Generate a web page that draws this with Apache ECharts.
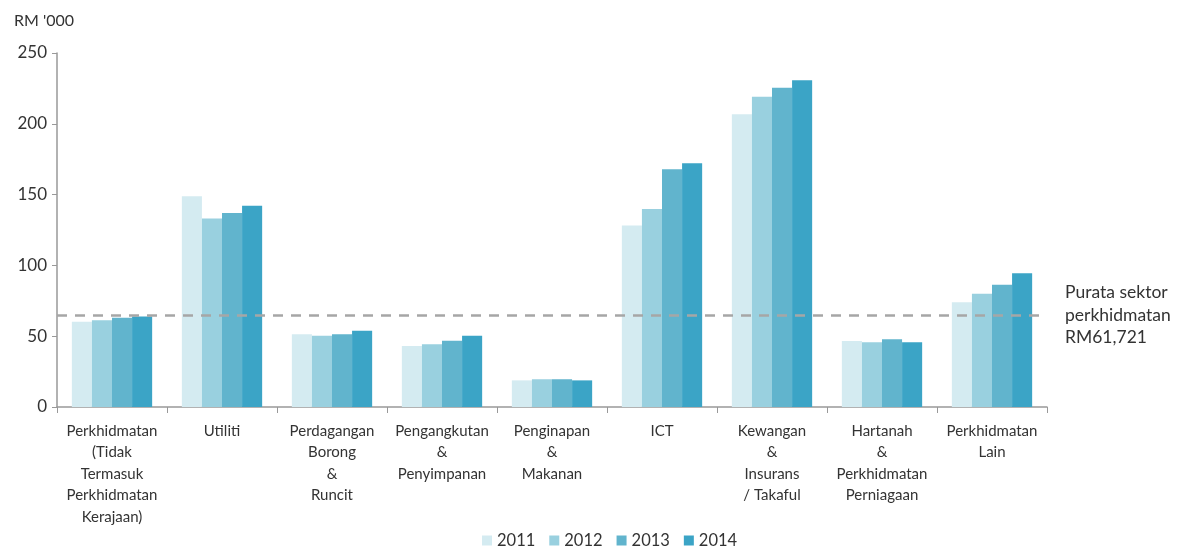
<!DOCTYPE html>
<html>
<head>
<meta charset="utf-8">
<script src="https://cdn.jsdelivr.net/npm/echarts@6/dist/echarts.min.js"></script>
<style>
  html, body { margin: 0; padding: 0; background: #fff; }
  #main { width: 1183px; height: 549px; }
</style>
</head>
<body>
<div id="main"></div>
<script>
// categories (sectors)
var sectors = [
  'Perkhidmatan\n(Tidak\nTermasuk\nPerkhidmatan\nKerajaan)',
  'Utiliti',
  'Perdagangan\nBorong\n&\nRuncit',
  'Pengangkutan\n&\nPenyimpanan',
  'Penginapan\n&\nMakanan',
  'ICT',
  'Kewangan\n&\nInsurans\n/ Takaful',
  'Hartanah\n&\nPerkhidmatan\nPerniagaan',
  'Perkhidmatan\nLain'
];

var years = ['2011', '2012', '2013', '2014'];

// RM '000
var v2011 = [60.2, 148.8, 51.3, 43.1, 18.8, 128.1, 206.7, 46.6, 73.9];
var v2012 = [61.2, 133.2, 50.4, 44.3, 19.6, 139.8, 219.1, 45.7, 80.0];
var v2013 = [63.1, 137.0, 51.3, 46.8, 19.6, 167.9, 225.5, 47.8, 86.4];
var v2014 = [64.0, 142.2, 53.9, 50.4, 18.8, 172.1, 230.7, 45.7, 94.4];

var avgLine = 65;
var avgLabel = 'Purata sektor\nperkhidmatan\nRM61,721';

var colors = ['#d4ebf1', '#99d0df', '#61b4cd', '#3ba4c6'];
var font = 'Lato, "Open Sans", sans-serif';

var chart = echarts.init(document.getElementById('main'));

var values = [v2011, v2012, v2013, v2014];
var series = years.map(function (y, i) {
  var s = {
    name: y,
    type: 'bar',
    data: values[i],
    barGap: '0%',
    barCategoryGap: '27%',
    itemStyle: { color: colors[i] }
  };
  if (i === 3) {
    s.markLine = {
      silent: true,
      symbol: 'none',
      lineStyle: { color: '#a6a6a6', type: [10, 8], width: 2.5 },
      label: {
        show: true,
        position: 'end',
        distance: 18,
        formatter: avgLabel,
        align: 'left',
        color: '#333',
        fontSize: 17.5,
        lineHeight: 22.5,
        fontFamily: font
      },
      data: [{ yAxis: avgLine }]
    };
  }
  return s;
});

chart.setOption({
  animation: false,
  color: colors,
  textStyle: { fontFamily: font },
  title: {
    text: "RM '000",
    left: 9,
    top: 8,
    textStyle: { fontSize: 16, fontWeight: 'normal', color: '#333', fontFamily: font }
  },
  grid: { left: 57, right: 136, top: 53, bottom: 142 },
  legend: {
    data: years,
    left: 477,
    top: 527,
    icon: 'rect',
    itemWidth: 10,
    itemHeight: 10,
    itemGap: 14,
    textStyle: { fontSize: 16.5, color: '#333', fontFamily: font }
  },
  xAxis: {
    type: 'category',
    data: sectors,
    axisLine: { lineStyle: { color: '#999', width: 1.5 } },
    axisTick: { show: true, length: 6, lineStyle: { color: '#999' } },
    axisLabel: {
      interval: 0,
      margin: 13,
      fontSize: 15,
      lineHeight: 21.5,
      color: '#333',
      fontFamily: font
    }
  },
  yAxis: {
    type: 'value',
    min: 0,
    max: 250,
    interval: 50,
    splitLine: { show: false },
    axisLine: { show: true, lineStyle: { color: '#999', width: 1.5 } },
    axisTick: { show: true, length: 5, lineStyle: { color: '#999' } },
    axisLabel: { fontSize: 17, color: '#333', margin: 10, fontFamily: font }
  },
  series: series
});
</script>
</body>
</html>
